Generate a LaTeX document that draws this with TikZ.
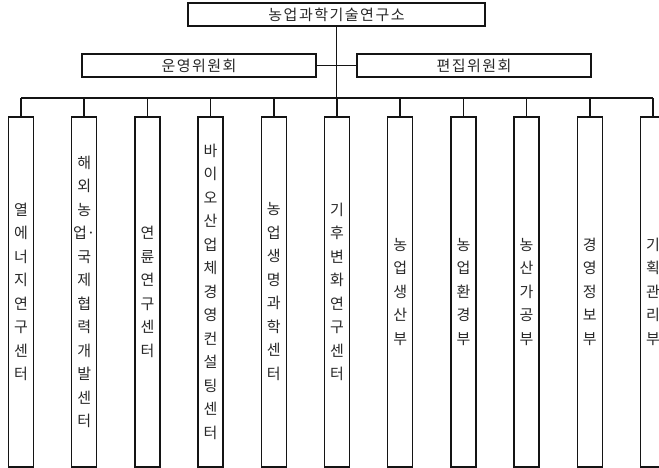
\documentclass[tikz,border=0pt]{standalone}
\usepackage{fontspec}
\usepackage{tikz}
\usetikzlibrary{positioning}
\newfontfamily\kor{Noto Sans CJK KR}
\newfontfamily\korwide{Noto Sans CJK KR}[LetterSpace=10]
\definecolor{OrgLine}{RGB}{20, 20, 20}
\definecolor{OrgText}{RGB}{40, 40, 40}

\begin{document}
\begin{tikzpicture}[
          x=1pt, y=-1pt,
          hbox/.style={draw=OrgLine, line width=1.5pt, fill=white,
                       inner sep=0pt, minimum height=23pt,
                       font=\korwide\fontsize{15}{17}\selectfont, text=OrgText},
          vbox/.style={draw=OrgLine, line width=1.5pt, fill=white,
                       inner sep=0pt, minimum width=25pt, minimum height=350pt,
                       anchor=north, align=center, text=OrgText,
                       font=\kor\fontsize{15}{23.5}\selectfont},
          link/.style={OrgLine, line width=1.5pt}
        ]
        \useasboundingbox (0,0) rectangle (659,467);
        \clip (0,0) rectangle (659,467);
        \node[hbox, minimum width=297pt] (inst) at (336.5,14.5) {농업과학기술연구소};
        \node[hbox, minimum width=234pt] (opc) at (199,65.5) {운영위원회};
        \node[hbox, minimum width=234pt] (edc) at (474,65.5) {편집위원회};
        \coordinate (bus) at (0,98);
        \foreach \i/\txt in {0/{열\\에\\너\\지\\연\\구\\센\\터},
                             1/{해\\외\\농\\업·\\국\\제\\협\\력\\개\\발\\센\\터},
                             2/{연\\륜\\연\\구\\센\\터},
                             3/{바\\이\\오\\산\\업\\체\\경\\영\\컨\\설\\팅\\센\\터},
                             4/{농\\업\\생\\명\\과\\학\\센\\터},
                             5/{기\\후\\변\\화\\연\\구\\센\\터},
                             6/{농\\업\\생\\산\\부},
                             7/{농\\업\\환\\경\\부},
                             8/{농\\산\\가\\공\\부},
                             9/{경\\영\\정\\보\\부},
                             10/{기\\획\\관\\리\\부}}
          \node[vbox] (d\i) at (21+63.2*\i,116) {\txt};
        % trunk and committees
        \draw[link] (inst.south) -- (inst.south |- bus);
        \draw[link] (opc.east) -- (opc.east -| inst.south);
        \draw[link] (edc.west) -- (edc.west -| inst.south);
        % bus and drops
        \draw[link] (d0.north |- bus) -- (d10.north |- bus);
        \foreach \i in {0,...,10}
          \draw[link] (d\i.north |- bus) -- (d\i.north);
      \end{tikzpicture}
\end{document}
